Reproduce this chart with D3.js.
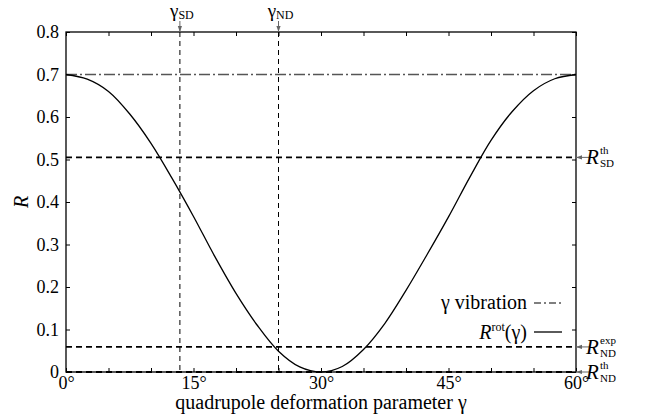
<!DOCTYPE html>
<html>
<head>
<meta charset="utf-8">
<script src="https://cdn.jsdelivr.net/npm/d3@7"></script>
<style>
  body { margin: 0; background: #fff; }
  svg text { font-family: "Liberation Serif", "Times New Roman", serif !important; fill: #000; }
</style>
</head>
<body>
<div id="chart"></div>
<script>
var width = 646;
var height = 416;

// curve R^rot(gamma)
var gammaDeg = [0, 2.5, 5, 7.5, 10, 12.5, 15, 17.5, 20, 22.5, 25, 27.5, 30,
                32.5, 35, 37.5, 40, 42.5, 45, 47.5, 50, 52.5, 55, 57.5, 60];
var rotR = [0.700, 0.689, 0.660, 0.607, 0.538, 0.455, 0.366, 0.272, 0.185, 0.110, 0.049, 0.012, 0.000,
            0.013, 0.053, 0.114, 0.192, 0.277, 0.365, 0.458, 0.545, 0.613, 0.662, 0.690, 0.700];

var vibrationR = 0.7;
var rSDth = 0.505;
var rNDexp = 0.059;
var rNDth = 0;
var gammaSD = 13.4;
var gammaND = 25;

var xTicks = [0, 5, 10, 15, 20, 25, 30, 35, 40, 45, 50, 55, 60];
var xLabels = [0, 15, 30, 45, 60];
var yTicks = [0, 0.1, 0.2, 0.3, 0.4, 0.5, 0.6, 0.7, 0.8];

var margin = {left: 66, right: 70, top: 32, bottom: 44};
var x = d3.scaleLinear().domain([0, 60]).range([margin.left, width - margin.right]);
var y = d3.scaleLinear().domain([0, 0.8]).range([height - margin.bottom, margin.top]);

var svg = d3.select('#chart').append('svg')
    .attr('width', width)
    .attr('height', height)
    .attr('font-family', '"Liberation Serif", serif');

var defs = svg.append('defs');
defs.append('marker')
    .attr('id', 'arr')
    .attr('viewBox', '0 0 10 10')
    .attr('refX', 10).attr('refY', 5)
    .attr('markerWidth', 6).attr('markerHeight', 6)
    .attr('orient', 'auto')
    .append('path')
    .attr('d', 'M0,1.5L10,5L0,8.5z')
    .attr('fill', '#666');

function cleanAxis(g) {
    g.attr('font-family', null).attr('font-size', null);
    g.select('.domain').remove();
}

// axes with inward ticks
svg.append('g')
    .attr('transform', 'translate(0,' + y(0) + ')')
    .call(d3.axisBottom(x).tickValues(xTicks).tickSize(-4).tickPadding(4)
        .tickFormat(function (d) { return xLabels.indexOf(d) >= 0 ? d + '°' : ''; }))
    .call(cleanAxis)
    .call(function (g) { g.selectAll('text').attr('font-size', 18); });

svg.append('g')
    .attr('transform', 'translate(0,' + y(0.8) + ')')
    .call(d3.axisTop(x).tickValues(xTicks).tickSize(-4).tickFormat(''))
    .call(cleanAxis);

svg.append('g')
    .attr('transform', 'translate(' + x(0) + ',0)')
    .call(d3.axisLeft(y).tickValues(yTicks).tickSize(-4).tickPadding(7)
        .tickFormat(function (d) { return d === 0 ? '0' : d3.format('.1f')(d); }))
    .call(cleanAxis)
    .call(function (g) { g.selectAll('text').attr('font-size', 18); });

svg.append('g')
    .attr('transform', 'translate(' + x(60) + ',0)')
    .call(d3.axisRight(y).tickValues(yTicks).tickSize(-4).tickFormat(''))
    .call(cleanAxis);

svg.selectAll('.tick line').attr('stroke', '#000').attr('stroke-width', 1);

// frame
svg.append('rect')
    .attr('x', x(0)).attr('y', y(0.8))
    .attr('width', x(60) - x(0)).attr('height', y(0) - y(0.8))
    .attr('fill', 'none').attr('stroke', '#000').attr('stroke-width', 1.3);

// vertical dashed markers
[gammaSD, gammaND].forEach(function (g) {
    svg.append('line')
        .attr('x1', x(g)).attr('x2', x(g))
        .attr('y1', y(0.8)).attr('y2', y(0))
        .attr('stroke', '#000').attr('stroke-width', 1)
        .attr('stroke-dasharray', '5,4');
});

// horizontal dashed references
[rSDth, rNDexp, rNDth].forEach(function (r) {
    svg.append('line')
        .attr('x1', x(0)).attr('x2', x(60))
        .attr('y1', y(r)).attr('y2', y(r))
        .attr('stroke', '#000').attr('stroke-width', 1.8)
        .attr('stroke-dasharray', '6,4');
});

// gamma vibration
svg.append('line')
    .attr('x1', x(0)).attr('x2', x(60))
    .attr('y1', y(vibrationR)).attr('y2', y(vibrationR))
    .attr('stroke', '#555').attr('stroke-width', 1.3)
    .attr('stroke-dasharray', '11,3,2,3');

// rotor curve
var line = d3.line()
    .x(function (d, i) { return x(gammaDeg[i]); })
    .y(function (d) { return y(d); })
    .curve(d3.curveCatmullRom.alpha(0.5));

svg.append('path')
    .attr('d', line(rotR))
    .attr('fill', 'none')
    .attr('stroke', '#000')
    .attr('stroke-width', 1.3);

// top labels
[[gammaSD, 'SD'], [gammaND, 'ND']].forEach(function (p) {
    var t = svg.append('text')
        .attr('x', x(p[0]) + 2).attr('y', 17)
        .attr('text-anchor', 'middle')
        .attr('font-size', 19);
    t.append('tspan').text('γ');
    t.append('tspan').attr('font-size', 12).attr('dy', 2).text(p[1]);
    svg.append('line')
        .attr('x1', x(p[0])).attr('x2', x(p[0]))
        .attr('y1', 21).attr('y2', y(0.8))
        .attr('stroke', '#666').attr('stroke-width', 1)
        .attr('marker-end', 'url(#arr)');
});

// right labels
[[rSDth, 'th', 'SD'], [rNDexp, 'exp', 'ND'], [rNDth, 'th', 'ND']].forEach(function (p) {
    var yy = y(p[0]);
    svg.append('line')
        .attr('x1', x(60) + 13).attr('x2', x(60))
        .attr('y1', yy).attr('y2', yy)
        .attr('stroke', '#666').attr('stroke-width', 1)
        .attr('marker-end', 'url(#arr)');
    svg.append('text')
        .attr('x', x(60) + 10).attr('y', yy + 7)
        .attr('font-size', 21).attr('font-style', 'italic')
        .text('R');
    svg.append('text')
        .attr('x', x(60) + 24).attr('y', yy - 3)
        .attr('font-size', 11)
        .text(p[1]);
    svg.append('text')
        .attr('x', x(60) + 24).attr('y', yy + 10)
        .attr('font-size', 11)
        .text(p[2]);
});

// legend
var legX = 527;
svg.append('text')
    .attr('x', legX).attr('y', 309)
    .attr('text-anchor', 'end')
    .attr('font-size', 20)
    .text('γ vibration');
svg.append('line')
    .attr('x1', legX + 7).attr('x2', legX + 35)
    .attr('y1', 303).attr('y2', 303)
    .attr('stroke', '#555').attr('stroke-width', 1.3)
    .attr('stroke-dasharray', '7,3,2,3');

var lt = svg.append('text')
    .attr('x', legX).attr('y', 339)
    .attr('text-anchor', 'end')
    .attr('font-size', 20);
lt.append('tspan').attr('font-style', 'italic').text('R');
lt.append('tspan').attr('font-size', 12).attr('dy', -8).text('rot');
lt.append('tspan').attr('dy', 8).text('(γ)');
svg.append('line')
    .attr('x1', legX + 7).attr('x2', legX + 35)
    .attr('y1', 332).attr('y2', 332)
    .attr('stroke', '#000').attr('stroke-width', 1.3);

// axis titles
svg.append('text')
    .attr('x', (x(0) + x(60)) / 2).attr('y', 409)
    .attr('text-anchor', 'middle')
    .attr('font-size', 20)
    .text('quadrupole deformation parameter γ');

svg.append('text')
    .attr('transform', 'translate(28,' + y(0.4) + ') rotate(-90)')
    .attr('text-anchor', 'middle')
    .attr('font-size', 20)
    .attr('font-style', 'italic')
    .text('R');
</script>
</body>
</html>
